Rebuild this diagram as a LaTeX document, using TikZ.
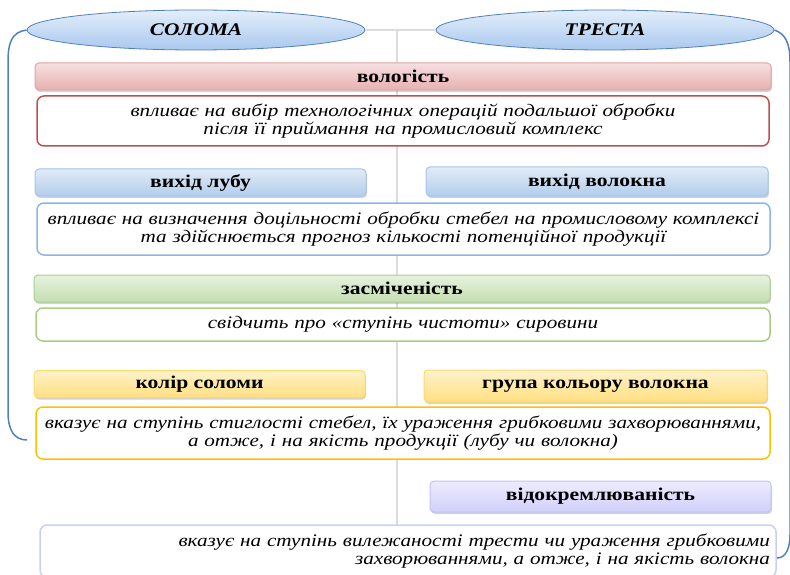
\documentclass[tikz,border=0pt]{standalone}
\usepackage{fontspec}
\setmainfont[FakeStretch=1.2]{Liberation Serif}
\usetikzlibrary{shapes.geometric,shadows}

\definecolor{bracketblue}{HTML}{4F81BD}
\definecolor{spinegray}{HTML}{DCDCDC}
\definecolor{elltop}{HTML}{E3EEFA}
\definecolor{ellbot}{HTML}{A9C8EE}
\definecolor{redline}{HTML}{E3A3A3}
\definecolor{redfill}{HTML}{E8B0B0}
\definecolor{reddesc}{HTML}{C0504D}
\definecolor{blueline}{HTML}{A6C5EA}
\definecolor{bluefill}{HTML}{B3CDEB}
\definecolor{bluedesc}{HTML}{8DB4E2}
\definecolor{greenline}{HTML}{A8D08D}
\definecolor{greenfill}{HTML}{C3DEAF}
\definecolor{greendesc}{HTML}{A9CD82}
\definecolor{yellowline}{HTML}{FFD966}
\definecolor{yellowfill}{HTML}{FFDF80}
\definecolor{yellowdesc}{HTML}{FFC000}
\definecolor{lavline}{HTML}{C3C3F2}
\definecolor{lavfill}{HTML}{D0D0FA}
\definecolor{lavdesc}{HTML}{CCCCFF}

\newcommand{\hdrfont}{\fontsize{18}{20}\selectfont\bfseries}
\newcommand{\descfont}{\fontsize{17.6}{18}\selectfont\itshape}

\begin{document}
\begin{tikzpicture}[x=1pt,y=-1pt,
    ttl/.style={ellipse,draw=bracketblue,line width=0.8pt,top color=elltop,bottom color=ellbot,
        minimum width=338pt,minimum height=40pt,inner sep=0pt,
        font=\fontsize{17.8}{19}\selectfont\bfseries\itshape},
    hdr/.style 2 args={draw=#1,line width=1pt,rounded corners=4pt,top color=#2!40!white,
        middle color=#2!10!white,bottom color=#2,
        drop shadow={opacity=0.35,shadow xshift=1pt,shadow yshift=-2pt},inner sep=0pt,font=\hdrfont},
    desc/.style={draw=#1,line width=1.5pt,fill=white,rounded corners=7pt,align=center,
        inner sep=0pt,font=\descfont},
    spine/.style={spinegray,line width=1.5pt},
    brace/.style={bracketblue,line width=1.5pt}]

    \useasboundingbox (0,0) rectangle (790,575);

    % Осьова лінія
    \coordinate (spinetop) at (397,30);
    \coordinate (spinebot) at (397,530);
    \draw[spine] (spinetop) -- (spinebot);

    % Заголовки
    \node[ttl] (soloma) at (196,30) {СОЛОМА};
    \node[ttl] (tresta) at (605,30) {ТРЕСТА};
    \draw[spine] (soloma.east) -- (tresta.west);

    % Вологість
    \node[hdr={redline}{redfill},minimum width=736pt,minimum height=27pt] (vol) at (403,76.5) {вологість};
    \node[desc=reddesc,text width=732pt,minimum height=50pt] (voldesc) at (403,121)
        {впливає на вибір технологічних операцій подальшої обробки\\після її приймання на промисловий комплекс};

    % Вихід лубу / волокна
    \node[hdr={blueline}{bluefill},minimum width=331pt,minimum height=27pt] (lub) at (200.5,182.5) {вихід лубу};
    \node[hdr={blueline}{bluefill},minimum width=342pt,minimum height=29pt] (volokno) at (597,181.5) {вихід волокна};
    \node[desc=bluedesc,text width=733pt,minimum height=52pt] (vykhdesc) at (403.5,229)
        {впливає на визначення доцільності обробки стебел на промисловому комплексі\\та здійснюється прогноз кількості потенційної продукції};

    % Засміченість
    \node[hdr={greenline}{greenfill},minimum width=736pt,minimum height=27pt] (zasm) at (402,288.5) {засміченість};
    \node[desc=greendesc,text width=734pt,minimum height=33pt] (zasmdesc) at (403,324.5)
        {свідчить про «ступінь чистоти» сировини};

    % Колір
    \node[hdr={yellowline}{yellowfill},minimum width=331pt,minimum height=27pt] (kolir) at (199.5,384) {колір соломи};
    \node[hdr={yellowline}{yellowfill},minimum width=343pt,minimum height=32pt] (grupa) at (595.5,386) {група кольору волокна};
    \node[desc=yellowdesc,text width=734pt,minimum height=52pt] (kolirdesc) at (403,433)
        {вказує на ступінь стиглості стебел, їх ураження грибковими захворюваннями,\\а отже, і на якість продукції (лубу чи волокна)};

    % Відокремлюваність
    \node[hdr={lavline}{lavfill},minimum width=341pt,minimum height=31pt] (vidokr) at (600.5,496.5) {відокремлюваність};
    \node[desc=lavdesc,align=right,text width=724pt,minimum height=52pt,inner xsep=6pt] (vidokrdesc) at (408,551)
        {вказує на ступінь вилежаності трести чи ураження грибковими\\захворюваннями, а отже, і на якість волокна};

    % Дужки
    \coordinate (leftend) at (27,440);
    \coordinate (rightend) at (777,558);
    \draw[brace] (soloma.west) .. controls (12,32) and (8,42) .. (8,62)
        -- (8,412) .. controls (8,430) and (14,440) .. (leftend);
    \draw[brace] (tresta.east) .. controls (786,34) and (790,44) .. (790,62)
        -- (790,535) .. controls (790,548) and (786,558) .. (rightend);

\end{tikzpicture}
\end{document}
